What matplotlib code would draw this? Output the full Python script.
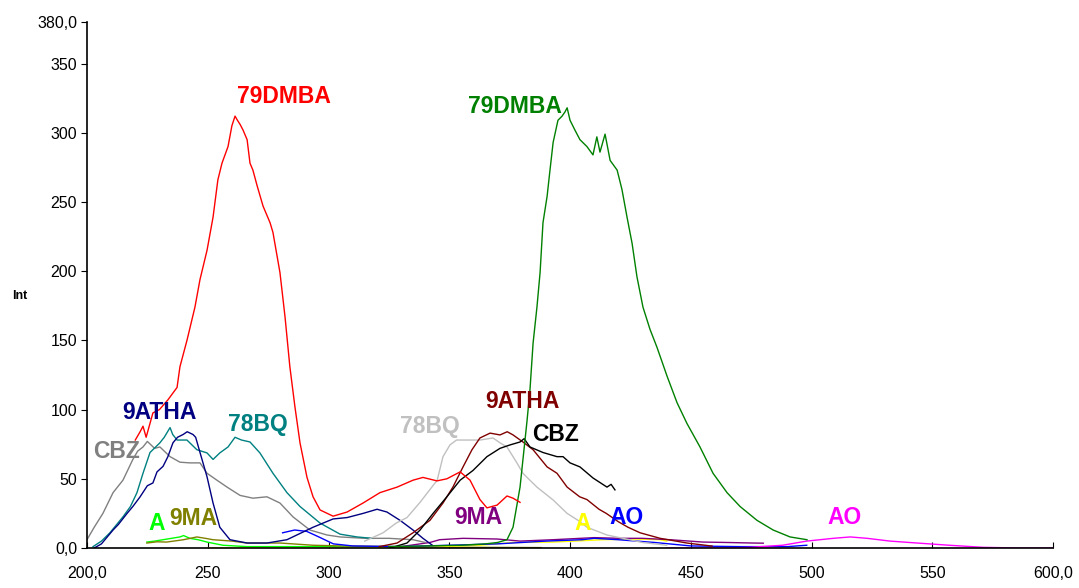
import matplotlib
matplotlib.use("Agg")
import matplotlib.pyplot as plt

plt.rcParams["font.family"] = ["Liberation Sans", "DejaVu Sans"]

# ── Spectra (wavelength, intensity) ───────────────────────────────────
red_x = [220, 222, 223.2, 224.5, 227.3, 230, 233.5, 237.3, 238.5, 241.4, 244.7, 246.8,
         249.7, 252.2, 254.2, 255.9, 258.4, 260, 261.3, 262.3, 263.4, 264.6, 266.3, 267.5,
         268.7, 270.4, 272.9, 275.8, 277, 279.9, 282, 284, 286.1, 288.2, 291.1, 293.6,
         296.5, 301.9, 307.7, 314.3, 321.3, 328.4, 335, 339.1, 344.9, 349, 354.5, 358.6,
         362.7, 365.6, 369.8, 373.9, 376.4, 379.3]
red_y = [78, 84, 88, 80, 97.6, 100, 107, 116, 131, 150, 174, 194,
         215, 239, 266, 278, 290, 305, 312, 309, 306, 302, 295, 278,
         273, 262, 247, 235, 228, 199, 167, 131, 102, 76, 51, 37,
         27.5, 23, 26, 32.5, 40, 44, 49, 51, 48.5, 50, 55, 49,
         35, 29, 31, 37.6, 36, 33]

green_x = [325, 340, 355, 365, 370, 373.9, 376.4, 379.3, 382.2, 383.4, 384.7, 386.3,
           387.6, 388.8, 390.5, 391.7, 393, 395, 396.7, 397.9, 398.8, 400, 402, 404.1,
           407, 409.5, 411.1, 412.4, 414.5, 416.6, 419.5, 421.5, 423.6, 425.7, 427.7,
           430.2, 433.1, 436, 440.2, 444.3, 448.4, 453.8, 459.2, 465, 470.4, 477.4,
           484.1, 491.1, 498.1]
green_y = [1, 1.5, 2, 3, 4, 6, 15, 44, 92, 114, 148, 174,
           199, 235, 254, 273, 293, 309, 312, 315, 318, 309, 302, 295,
           290, 284, 297, 286, 299, 280, 273, 259, 239, 220, 196,
           174, 158, 145, 124, 105, 90, 73, 54, 40, 30, 20,
           13, 8, 6]

navy_x = [203, 206, 210.8, 213, 216.6, 219, 222, 225, 227.3, 229, 231.5, 233.5, 235.6,
          237.5, 239.8, 241.5, 243.9, 245, 246.8, 249.7, 252.2, 255, 259.2, 266.3, 274.5,
          282.8, 293.6, 301.9, 307.7, 314.3, 320.1, 324.2, 329.6, 335, 339.1, 343]
navy_y = [0, 3, 13, 17, 25, 30, 37, 45, 47, 55, 59, 66, 76,
          80, 82, 84, 82, 80, 69, 51.5, 32.5, 15, 6, 3.6, 3.6,
          6, 15, 21, 22, 25, 28, 26, 20, 13, 7, 2]

teal_x = [202.5, 206, 209.5, 214.9, 218, 220.7, 223.2, 226.1, 230.2, 232, 234.4, 235.5,
          237.3, 241.4, 245.5, 249.7, 252.2, 255, 258.4, 261.3, 264, 267.5, 271.6, 277,
          282.8, 288.2, 296.5, 304.8, 311.8, 318]
teal_y = [1, 5, 11, 22.5, 30, 40, 54, 69, 76, 80, 87, 82,
          78, 78, 71, 68.7, 64, 68.7, 73, 80, 78, 76.6, 68.7, 54,
          40, 30, 18, 10, 8, 7]

gray_x = [200, 203, 206.6, 210.8, 214.9, 219, 221, 223.2, 225, 228, 230.2, 234.4,
          238.5, 242.6, 246.8, 249.7, 253.8, 258, 263.4, 268.7, 274.5, 279.9, 285.3,
          292.3, 299.4, 304.8, 315, 325, 335, 340]
gray_y = [6, 15, 25, 40, 49, 64, 70, 73, 77, 72, 73, 66,
          62, 61.5, 61.5, 54, 49, 44, 38, 36, 37, 32.5, 22.5,
          13, 9.4, 8, 7, 7, 6, 4]

blue_x = [281, 286, 291, 296, 302, 310, 330, 350, 370, 390, 405, 410, 420, 435, 450,
          470, 490, 498]
blue_y = [11, 13, 12, 8, 3, 1.5, 1, 2, 3, 5, 6, 7, 6, 4, 1.5,
          1, 1, 2]

magenta_x = [440, 465, 474.5, 488, 498, 509, 516, 523, 532.5, 543.7, 557, 571, 586, 600]
magenta_y = [0, 0, 0.5, 2, 5, 7, 8, 7, 5, 3.6, 2, 0.5, 0, 0]

maroon_x = [321, 328.4, 335, 342, 347.4, 351.5, 355.7, 359.4, 362.7, 366.9, 371, 374,
            376.4, 380.5, 384.7, 390.5, 394.6, 398.8, 404, 407, 412, 415, 420, 424,
            429, 437.3, 448.4, 458.8]
maroon_y = [1, 3.6, 11, 20, 32.5, 44, 58.6, 71, 79.5, 83, 81.7, 84,
            81.7, 76.6, 71, 58.6, 54, 44, 37, 35, 28, 25, 19, 15,
            11, 7, 3.6, 1.4]

black_x = [325.5, 332.5, 337.9, 343.3, 349, 354.5, 359.8, 365.6, 371, 375.2, 379.3, 381,
           383.4, 388.8, 394.6, 397.1, 400, 404.1, 409.5, 415.3, 417, 418.6]
black_y = [0, 3.6, 13, 25, 37, 49, 56, 66, 72, 74.5, 76.6, 79,
           73, 69, 66, 66, 61.5, 58.6, 50.6, 44, 46, 42]

silver_x = [315, 322.6, 328, 332.5, 337.9, 341, 345, 347.4, 350.3, 353, 357.3, 362.7,
            368.1, 371, 373.9, 376.4, 378, 380.5, 382.2, 386.3, 393, 398.8, 403.3, 407,
            415.3, 421.9, 430, 440]
silver_y = [5, 11, 18, 22, 33, 40, 49, 66, 74.5, 78, 78, 78,
            79.5, 76, 73, 66, 61.5, 54, 51, 44, 34.7, 25, 20, 15,
            9.4, 7, 4, 2]

purple_x = [330, 342, 346, 355.7, 369.8, 379.3, 393, 410, 420.7, 430, 441.4, 455, 465,
            475.8, 480]
purple_y = [1, 4, 6, 7, 6.5, 5, 6, 7.5, 7, 7, 6, 4.3, 4,
            3.6, 3.5]

yellow_x = [250, 280, 310, 330, 345, 362.7, 376.4, 393, 413.7, 427.7, 437.3, 440]
yellow_y = [0, 0, 0, 0.5, 1, 2, 4, 4.3, 6, 6.5, 6, 5]

lime_x = [224.8, 228, 231.5, 235, 238.5, 240, 242.6, 246, 249.7, 256.3, 266.3, 280, 300,
          320, 345]
lime_y = [4.3, 5, 6, 7, 8, 9, 7, 6, 4.3, 2, 1, 1, 1,
          0.5, 0]

olive_x = [224.8, 229, 233, 240, 245.5, 249, 252.2, 260, 266.3, 280, 293.6, 307.7, 330,
           360, 388]
olive_y = [3.6, 4.5, 4.3, 6, 8, 7, 6, 5, 3.6, 3.6, 2, 1.4, 1,
           0.5, 0.3]

series = [
    (lime_x, lime_y, "#00FF00"),
    (olive_x, olive_y, "#808000"),
    (yellow_x, yellow_y, "#FFFF00"),
    (purple_x, purple_y, "#800080"),
    (blue_x, blue_y, "#0000FF"),
    (magenta_x, magenta_y, "#FF00FF"),
    (gray_x, gray_y, "#808080"),
    (teal_x, teal_y, "#008080"),
    (navy_x, navy_y, "#000080"),
    (silver_x, silver_y, "#C0C0C0"),
    (maroon_x, maroon_y, "#800000"),
    (black_x, black_y, "#000000"),
    (green_x, green_y, "#008000"),
    (red_x, red_y, "#FF0000"),
]

# ── Peak labels ───────────────────────────────────────────────────────
labels = [
    ("79DMBA", 281.6, 326, "#FF0000"),
    ("79DMBA", 377.2, 319, "#008000"),
    ("9ATHA", 230.2, 98, "#000080"),
    ("78BQ", 270.8, 89, "#008080"),
    ("CBZ", 212.4, 70, "#808080"),
    ("A", 229, 17.4, "#00FF00"),
    ("9MA", 243.9, 21, "#808000"),
    ("78BQ", 342, 88, "#C0C0C0"),
    ("9ATHA", 380.1, 106, "#800000"),
    ("CBZ", 393.8, 82, "#000000"),
    ("9MA", 361.9, 21.7, "#800080"),
    ("A", 405.4, 18, "#FFFF00"),
    ("AO", 423.2, 21.7, "#0000FF"),
    ("AO", 513.5, 21.7, "#FF00FF"),
]

fig = plt.figure(figsize=(10.79, 5.88), dpi=100)
ax = fig.add_axes([0.0806, 0.068, 0.8954, 0.8946])

for xs, ys, c in series:
    ax.plot(xs, ys, color=c, lw=1.0)

for txt, x, y, c in labels:
    ax.text(x, y, txt, color=c, fontsize=16.5, fontweight="bold",
            ha="center", va="center")

ax.set_xlim(200, 600)
ax.set_ylim(0, 380)

xticks = [200, 250, 300, 350, 400, 450, 500, 550, 600]
yticks = [0, 50, 100, 150, 200, 250, 300, 350, 380]
ax.set_xticks(xticks)
ax.set_xticklabels(["200,0"] + [str(t) for t in xticks[1:-1]] + ["600,0"])
ax.set_yticks(yticks)
ax.set_yticklabels(["0,0"] + [str(t) for t in yticks[1:-1]] + ["380,0"])
ax.tick_params(axis="x", direction="in", length=4, labelsize=11.5, pad=13)
ax.tick_params(axis="y", direction="out", length=4, labelsize=11.5, pad=3)

for side in ("top", "right"):
    ax.spines[side].set_visible(False)
ax.spines["left"].set_linewidth(1.2)
ax.spines["bottom"].set_linewidth(1.2)

fig.text(0.0185, 0.496, "Int", fontsize=9, fontweight="bold",
         ha="center", va="center")

fig.savefig("out.png", dpi=100)
